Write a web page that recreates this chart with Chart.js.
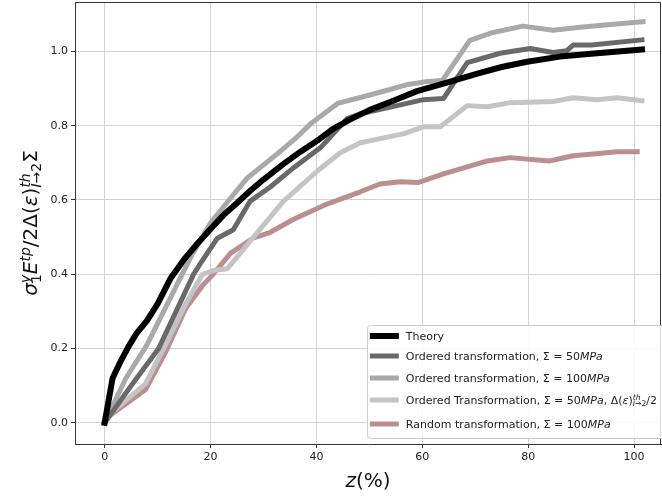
<!DOCTYPE html>
<html>
<head>
<meta charset="utf-8">
<script src="https://cdn.jsdelivr.net/npm/chart.js@4.4.1/dist/chart.umd.min.js"></script>
<style>
html,body{margin:0;padding:0;background:#fff;overflow:hidden;}
canvas{display:block;}
</style>
</head>
<body>
<canvas id="c" width="662" height="497"></canvas>
<script>
// ---------------- data ----------------
const theoryX = [0, 1.5, 3, 4.5, 6, 8, 10, 12.5, 15, 17.5, 20, 22.5, 25, 27.5, 30, 33.8, 37, 40.2, 43, 46.4, 50, 55, 59, 64, 70.4, 75, 79.8, 86, 93, 101.5];
const theoryY = [0, 0.12, 0.165, 0.205, 0.24, 0.275, 0.32, 0.39, 0.44, 0.482, 0.522, 0.56, 0.592, 0.625, 0.655, 0.697, 0.73, 0.76, 0.79, 0.817, 0.842, 0.870, 0.893, 0.913, 0.940, 0.958, 0.972, 0.986, 0.995, 1.005];

const ord50X = [0, 4.5, 10.2, 13.5, 16.8, 18, 21.3, 24.3, 27.5, 31.3, 35.7, 40.8, 45.8, 48.3, 54, 60.2, 64, 68.5, 74.7, 80.4, 84.7, 87.3, 88.5, 92, 101.5];
const ord50Y = [0, 0.09, 0.2, 0.30, 0.40, 0.427, 0.497, 0.52, 0.597, 0.635, 0.687, 0.741, 0.819, 0.832, 0.85, 0.87, 0.873, 0.97, 0.995, 1.008, 0.997, 1.002, 1.017, 1.017, 1.031];

const ord100X = [0, 4, 8, 11.5, 14.3, 16.8, 20, 23.5, 27, 32.6, 36, 38.9, 44, 48.3, 52, 57, 60.5, 63.8, 69, 73.4, 79, 84.7, 89.8, 95, 101.7];
const ord100Y = [0, 0.12, 0.21, 0.31, 0.39, 0.46, 0.538, 0.60, 0.66, 0.724, 0.765, 0.805, 0.86, 0.876, 0.89, 0.91, 0.918, 0.922, 1.03, 1.051, 1.068, 1.057, 1.065, 1.072, 1.08];

const ordHalfX = [0, 1.5, 7.7, 11.5, 15.3, 18.5, 20.5, 23.2, 27.5, 33.8, 40.2, 44.5, 48.3, 56.4, 60.2, 63.4, 68.5, 72.3, 76.6, 84.7, 88.5, 93, 96.8, 101.5];
const ordHalfY = [0, 0.03, 0.105, 0.21, 0.32, 0.40, 0.41, 0.415, 0.489, 0.597, 0.678, 0.727, 0.754, 0.778, 0.797, 0.797, 0.854, 0.851, 0.862, 0.865, 0.875, 0.87, 0.875, 0.867];

const randX = [1.5, 7.7, 11.5, 15.3, 18.5, 20.5, 23.8, 28, 31.3, 35.7, 42, 48.3, 52, 55.8, 59.2, 64, 67.2, 72.3, 76.6, 84, 88.5, 92.3, 96.8, 100.6];
const randY = [0.025, 0.089, 0.19, 0.308, 0.37, 0.40, 0.457, 0.497, 0.513, 0.548, 0.589, 0.622, 0.643, 0.649, 0.647, 0.67, 0.684, 0.705, 0.714, 0.705, 0.719, 0.724, 0.73, 0.73];

const xTicks = [0, 20, 40, 60, 80, 100];
const yTicks = [0.0, 0.2, 0.4, 0.6, 0.8, 1.0];

const seriesLabels = [
  'Theory',
  'Ordered transformation, Σ = 50MPa',
  'Ordered transformation, Σ = 100MPa',
  'Ordered Transformation, Σ = 50MPa, Δ(ε)th I→2 /2',
  'Random transformation, Σ = 100MPa'
];

// rich-text runs for legend labels / axis titles
const legendRuns = [
  [{t:'Theory'}],
  [{t:'Ordered transformation, Σ = 50'},{t:'MPa',i:1}],
  [{t:'Ordered transformation, Σ = 100'},{t:'MPa',i:1}],
  [{t:'Ordered Transformation, Σ = 50'},{t:'MPa',i:1},{t:', Δ('},{t:'ε',i:1},{t:')'},
   {sup:[{t:'th',i:1}], sub:[{t:'I',i:1},{t:'→2'}]},{t:'/2'}],
  [{t:'Random transformation, Σ = 100'},{t:'MPa',i:1}]
];
const yTitleRun = [{t:'σ',i:1},{sup:[{t:'y',i:1}],sub:[{t:'1'}]},{t:'E',i:1},{sup:[{t:'tp',i:1}]},
  {t:'/2Δ('},{t:'ε',i:1},{t:')'},{sup:[{t:'th',i:1}],sub:[{t:'I',i:1},{t:'→2'}]},{t:'Σ'}];
const xTitleRun = [{t:'z',i:1},{t:'(%)'}];

// ---------------- helpers ----------------
const FONT = '"DejaVu Sans", "Liberation Sans", sans-serif';
function fontOf(size, it){ return (it ? 'italic ' : '') + size + 'px ' + FONT; }
function run(ctx, segs, x, y, size, draw){
  const x0 = x;
  for (const s of segs){
    if (s.sup || s.sub){
      const ss = size * 0.7;
      const w1 = s.sup ? run(ctx, s.sup, x, y - size * 0.36, ss, draw) : 0;
      const w2 = s.sub ? run(ctx, s.sub, x, y + size * 0.22, ss, draw) : 0;
      x += Math.max(w1, w2);
    } else {
      ctx.font = fontOf(size, s.i);
      const w = ctx.measureText(s.t).width;
      if (draw) ctx.fillText(s.t, x, y);
      x += w;
    }
  }
  return x - x0;
}
const pts = (xs, ys) => xs.map((x, i) => ({x: x, y: ys[i]}));

const colors = ['#000000', '#696969', '#a9a9a9', '#c4c4c4', '#bc8f8f'];
const widths = [6, 5, 5, 5, 5];
const seriesX = [theoryX, ord50X, ord100X, ordHalfX, randX];
const seriesY = [theoryY, ord50Y, ord100Y, ordHalfY, randY];

const decor = {
  id: 'decor',
  afterDraw(chart){
    const ctx = chart.ctx, a = chart.chartArea;
    ctx.save();
    // top & right spines
    ctx.strokeStyle = '#333'; ctx.lineWidth = 1;
    ctx.beginPath();
    ctx.moveTo(a.left, a.top + 0.5); ctx.lineTo(a.right, a.top + 0.5);
    ctx.moveTo(a.right - 0.5, a.top); ctx.lineTo(a.right - 0.5, a.bottom);
    ctx.stroke();

    // legend
    const fs = 11;
    ctx.textBaseline = 'alphabetic';
    let maxW = 0;
    legendRuns.forEach(r => { maxW = Math.max(maxW, run(ctx, r, 0, 0, fs, false)); });
    const rowOff = [11, 31, 53, 75, 99];
    const boxH = 113;
    const boxW = 2 + 30 + 7 + maxW + 6;
    const bx = a.right - boxW + 2, by = a.bottom - 6 - boxH;
    ctx.fillStyle = 'rgba(255,255,255,0.85)';
    ctx.strokeStyle = '#cccccc'; ctx.lineWidth = 1;
    ctx.beginPath();
    const r = 3, L = Math.round(bx) + 0.5, T = Math.round(by) + 0.5, R = L + boxW, B = T + boxH;
    ctx.moveTo(L + r, T); ctx.lineTo(R - r, T); ctx.quadraticCurveTo(R, T, R, T + r);
    ctx.lineTo(R, B - r); ctx.quadraticCurveTo(R, B, R - r, B);
    ctx.lineTo(L + r, B); ctx.quadraticCurveTo(L, B, L, B - r);
    ctx.lineTo(L, T + r); ctx.quadraticCurveTo(L, T, L + r, T);
    ctx.closePath(); ctx.fill(); ctx.stroke();
    chart.data.datasets.forEach((ds, i) => {
      const cy = by + rowOff[i];
      ctx.strokeStyle = ds.borderColor; ctx.lineWidth = ds.borderWidth; ctx.lineCap = 'butt';
      ctx.beginPath(); ctx.moveTo(bx + 3, cy); ctx.lineTo(bx + 32, cy); ctx.stroke();
      ctx.fillStyle = '#222';
      run(ctx, legendRuns[i], bx + 39, cy + 4, fs, true);
    });

    // y title
    ctx.fillStyle = '#111';
    const ys = 20;
    const wy = run(ctx, yTitleRun, 0, 0, ys, false);
    ctx.save();
    ctx.translate(37, (a.top + a.bottom) / 2);
    ctx.rotate(-Math.PI / 2);
    run(ctx, yTitleRun, -wy / 2, 0, ys, true);
    ctx.restore();

    // x title
    const xs = 20;
    const wx = run(ctx, xTitleRun, 0, 0, xs, false);
    run(ctx, xTitleRun, (a.left + a.right) / 2 - wx / 2, 487, xs, true);
    ctx.restore();
  }
};

new Chart(document.getElementById('c'), {
  type: 'line',
  data: {
    datasets: seriesLabels.map((lab, i) => ({
      label: lab,
      data: pts(seriesX[i], seriesY[i]),
      borderColor: colors[i],
      backgroundColor: colors[i],
      borderWidth: widths[i],
      pointRadius: 0,
      tension: 0,
      fill: false,
      borderCapStyle: 'square',
      borderJoinStyle: 'round'
    }))
  },
  options: {
    responsive: false,
    animation: false,
    devicePixelRatio: 1,
    layout: { padding: { top: 2, right: 1, left: 0, bottom: 0 } },
    plugins: { legend: { display: false }, tooltip: { enabled: false } },
    scales: {
      x: {
        type: 'linear', min: -5.6, max: 105.1,
        afterBuildTicks: s => { s.ticks = xTicks.map(v => ({value: v})); },
        afterFit: s => { s.height = 53; s.paddingLeft = 0; s.paddingRight = 0; },
        ticks: { font: { family: FONT, size: 11 }, color: '#222', padding: 3, maxRotation: 0, callback: v => String(v) },
        grid: { color: '#d3d3d3', lineWidth: 1, tickColor: '#333', tickLength: 4 },
        border: { color: '#333', width: 1 }
      },
      y: {
        type: 'linear', min: -0.057, max: 1.133,
        afterBuildTicks: s => { s.ticks = yTicks.map(v => ({value: v})); },
        afterFit: s => { s.width = 75; s.paddingTop = 0; s.paddingBottom = 0; },
        ticks: { font: { family: FONT, size: 11 }, color: '#222', padding: 3, callback: v => Number(v).toFixed(1) },
        grid: { color: '#d3d3d3', lineWidth: 1, tickColor: '#333', tickLength: 4 },
        border: { color: '#333', width: 1 }
      }
    }
  },
  plugins: [decor]
});
</script>
</body>
</html>
